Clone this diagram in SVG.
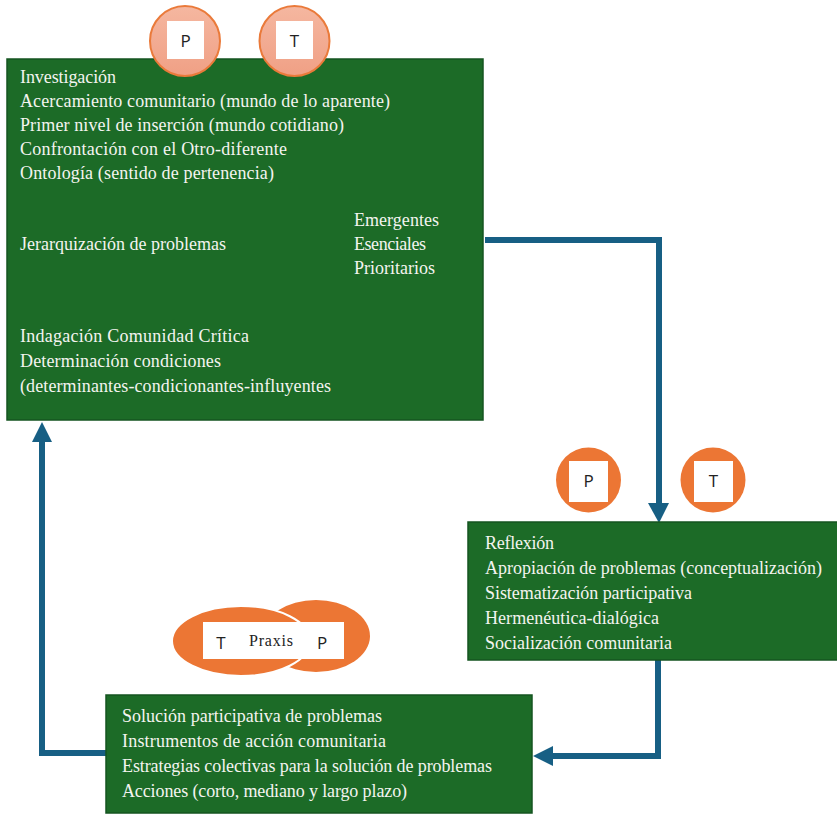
<svg xmlns="http://www.w3.org/2000/svg" width="837" height="814" viewBox="0 0 837 814">
<style>
.box{fill:#1c6b27;stroke:#145420;stroke-width:1.5}
.t{font-family:"Liberation Serif","DejaVu Serif",serif;font-size:18px;fill:#f4f4f0}
.conn{fill:none;stroke:#175f84;stroke-width:6}
.ah{fill:#175f84}
.sq{fill:#ffffff}
.lt{font-family:"Open Sans","Liberation Sans",sans-serif;font-size:17px;fill:#222}
.circA{fill:url(#salmon);stroke:#ea7a3a;stroke-width:2}
.circB{fill:#ec7634}
</style>
<defs>
<linearGradient id="salmon" x1="0" y1="0" x2="0" y2="1">
<stop offset="0" stop-color="#f5b7a0"/>
<stop offset="1" stop-color="#f0a085"/>
</linearGradient>
</defs>
<g id="connectors">
<polyline class="conn" points="485,240 659,240 659,506"/>
<polygon class="ah" points="648,503 669,503 659,523"/>
<polyline class="conn" points="658,660 658,756 552,756"/>
<polygon class="ah" points="533,756 553,746 553,766"/>
<polyline class="conn" points="106,753 42,753 42,440"/>
<polygon class="ah" points="42,422 32,442 52,442"/>
</g>
<g id="node-investigacion">
<rect class="box" x="7" y="59" width="476" height="361"/>
<text class="t" x="20" y="83" textLength="96">Investigación</text>
<text class="t" x="20" y="107" textLength="370">Acercamiento comunitario (mundo de lo aparente)</text>
<text class="t" x="20" y="131" textLength="324">Primer nivel de inserción (mundo cotidiano)</text>
<text class="t" x="20" y="155" textLength="267">Confrontación con el Otro-diferente</text>
<text class="t" x="20" y="179" textLength="254">Ontología (sentido de pertenencia)</text>
<text class="t" x="20" y="250" textLength="206">Jerarquización de problemas</text>
<text class="t" x="354" y="226" textLength="85">Emergentes</text>
<text class="t" x="354" y="250" textLength="72">Esenciales</text>
<text class="t" x="354" y="274" textLength="81">Prioritarios</text>
<text class="t" x="20" y="342" textLength="229">Indagación Comunidad Crítica</text>
<text class="t" x="20" y="367" textLength="201">Determinación condiciones</text>
<text class="t" x="20" y="392" textLength="311">(determinantes-condicionantes-influyentes</text>
</g>
<g id="badge-top-P">
<circle class="circA" cx="185" cy="41" r="35"/>
<rect class="sq" x="167" y="21" width="37" height="38"/>
<text class="lt" x="185.5" y="47" text-anchor="middle">P</text>
</g>
<g id="badge-top-T">
<circle class="circA" cx="294.5" cy="41" r="35"/>
<rect class="sq" x="276" y="21" width="37" height="38"/>
<text class="lt" x="294.5" y="47" text-anchor="middle">T</text>
</g>
<g id="badge-mid-P">
<circle class="circB" cx="588.5" cy="480" r="32.5"/>
<rect class="sq" x="569" y="461" width="39" height="41"/>
<text class="lt" x="588.5" y="487" text-anchor="middle">P</text>
</g>
<g id="badge-mid-T">
<circle class="circB" cx="713" cy="480" r="32.5"/>
<rect class="sq" x="694" y="461" width="39" height="41"/>
<text class="lt" x="713.5" y="487" text-anchor="middle">T</text>
</g>
<g id="node-reflexion">
<rect class="box" x="468" y="522" width="370" height="138"/>
<text class="t" x="485" y="549" textLength="69">Reflexión</text>
<text class="t" x="485" y="574" textLength="337">Apropiación de problemas (conceptualización)</text>
<text class="t" x="485" y="599" textLength="207">Sistematización participativa</text>
<text class="t" x="485" y="624" textLength="174">Hermenéutica-dialógica</text>
<text class="t" x="485" y="649" textLength="187">Socialización comunitaria</text>
</g>
<g id="node-praxis">
<ellipse cx="316" cy="636" rx="54" ry="36" fill="#ec7634"/>
<ellipse cx="241" cy="641" rx="69" ry="35" fill="#ec7634" stroke="#ffffff" stroke-width="2"/>
<rect class="sq" x="203" y="622" width="141" height="37"/>
<text class="lt" x="221" y="649" text-anchor="middle">T</text>
<text class="t" x="249" y="646" textLength="44" style="fill:#222;font-size:16px">Praxis</text>
<text class="lt" x="322" y="649" text-anchor="middle">P</text>
</g>
<g id="node-solucion">
<rect class="box" x="106" y="695" width="426" height="118"/>
<text class="t" x="122" y="722" textLength="260">Solución participativa de problemas</text>
<text class="t" x="122" y="747" textLength="264">Instrumentos de acción comunitaria</text>
<text class="t" x="122" y="772" textLength="370">Estrategias colectivas para la solución de problemas</text>
<text class="t" x="122" y="797" textLength="285">Acciones (corto, mediano y largo plazo)</text>
</g>
</svg>
